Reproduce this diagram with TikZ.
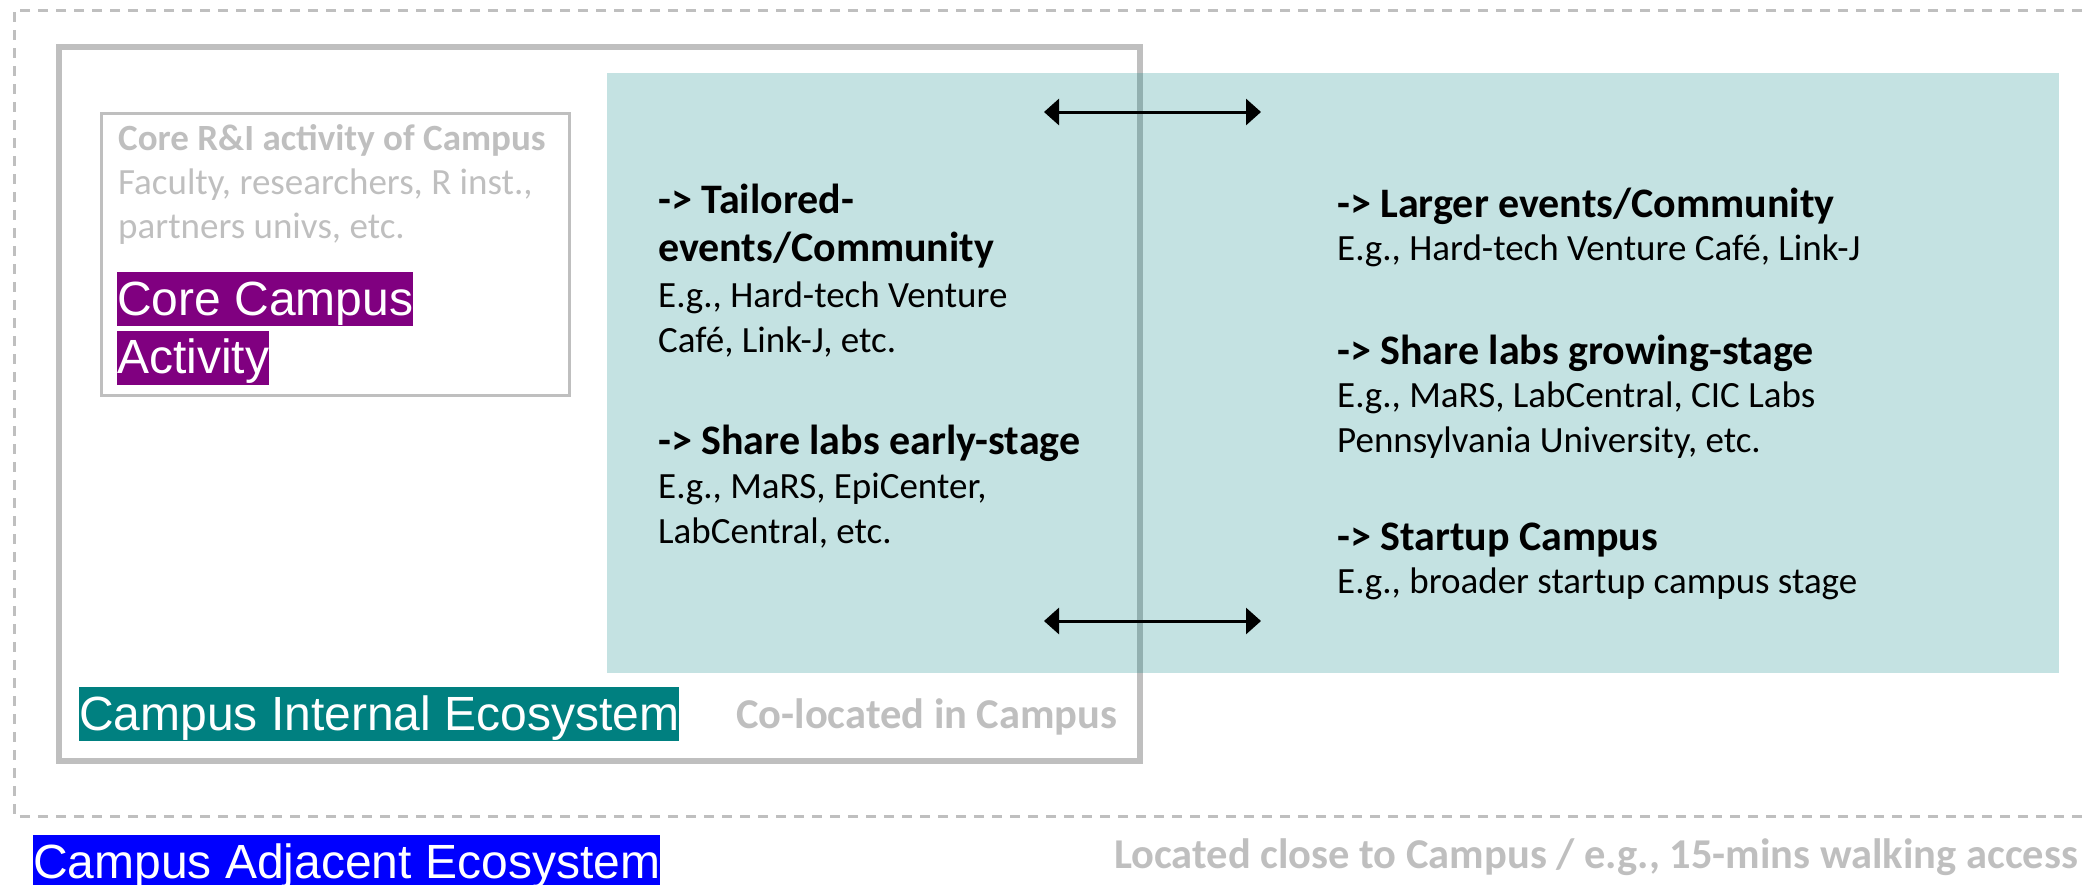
\documentclass[tikz,border=0pt]{standalone}
\usepackage{fontspec}
\setmainfont{Carlito}
\newfontfamily\arialfont{Liberation Sans}
\usetikzlibrary{positioning,arrows.meta}

\definecolor{frame}{HTML}{BFBFBF}
\definecolor{plum}{HTML}{800080}

\begin{document}
\begin{tikzpicture}[
    x=1pt, y=-1pt,
    zone/.style={draw=frame, line width=6pt},
    corebox/.style={draw=frame, line width=3pt},
    reach/.style={draw=frame, line width=3pt, dash pattern=on 10pt off 8pt},
    hub/.style={fill=teal, fill opacity=0.23},
    tag/.style={anchor=north west, inner sep=0pt, text=white, text height=43pt,
                text depth=11pt, font=\arialfont\fontsize{48}{54}\selectfont},
    head/.style={anchor=north west, inner sep=0pt, align=left,
                 font=\bfseries\fontsize{42}{48}\selectfont},
    info/.style={anchor=north west, inner sep=0pt, align=left,
                 font=\fontsize{37}{45}\selectfont},
    note/.style={anchor=base west, inner sep=0pt, text=frame,
                 font=\bfseries\fontsize{42.5}{50}\selectfont},
    link/.style={{Triangle[length=15pt, width=26pt]}-{Triangle[length=15pt, width=26pt]},
                 line width=3pt}
]
\useasboundingbox (0,0) rectangle (2088,884);
\clip (0,0) rectangle (2088,884);

% Frames: adjacent zone, campus, core activity
\draw[reach] (2100,10) -- (14,10) -- (14,816) -- (2100,816);
\draw[zone] (59,47) rectangle (1140,761);
\draw[corebox] (101,113) rectangle (569,395);
\path[hub] (607,73) rectangle (2059,673);

% Core activity box
\node[info, text=frame, font=\fontsize{37}{44}\selectfont] (core) at (118,119) {\strut\textbf{Core R\&I activity of Campus}\\Faculty, researchers, R inst.,\\partners univs, etc.};
\node[tag, fill=plum] (corecampus) at (117,272) {Core Campus};
\node[tag, fill=plum, below right=4pt and 0pt of corecampus.south west] (activity) {Activity};

% Column 1: inside campus
\node[head] (tailored) at (658,180) {\strut-> Tailored-\\events/Community};
\node[info] (tailoredeg) at (658,276) {\strut E.g., Hard-tech Venture\\Café, Link-J, etc.};
\node[head] (early) at (658,421) {\strut-> Share labs early-stage};
\node[info] (earlyeg) at (658,467) {\strut E.g., MaRS, EpiCenter,\\LabCentral, etc.};

% Column 2: close to campus
\node[head] (larger) at (1337,184) {\strut-> Larger events/Community};
\node[info] (largereg) at (1337,229) {\strut E.g., Hard-tech Venture Café, Link-J};
\node[head] (growing) at (1337,331) {\strut-> Share labs growing-stage};
\node[info] (growingeg) at (1337,376) {\strut E.g., MaRS, LabCentral, CIC Labs\\Pennsylvania University, etc.};
\node[head] (startup) at (1337,517) {\strut-> Startup Campus};
\node[info] (startupeg) at (1337,562) {\strut E.g., broader startup campus stage};

% Links between the two columns
\coordinate (topL) at (1044,112);
\coordinate (topR) at (1261,112);
\coordinate (botL) at (1044,621);
\coordinate (botR) at (1261,621);
\draw[link] (topL) -- (topR);
\draw[link] (botL) -- (botR);

% Zone labels
\node[tag, fill=teal] (internal) at (79,687) {Campus Internal Ecosystem};
\node[note] (colocated) at (736,728) {Co-located in Campus};
\node[tag, fill=blue] (adjacent) at (33,835) {Campus Adjacent Ecosystem};
\node[note] (located) at (1114,868) {Located close to Campus / e.g., 15-mins walking access};

\end{tikzpicture}
\end{document}
